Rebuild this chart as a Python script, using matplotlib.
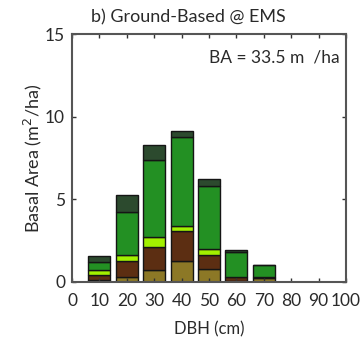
import numpy as np
import matplotlib.pyplot as plt

# Chart data (basal area per DBH class, stacked by group)
dbh = [10, 20, 30, 40, 50, 60, 70, 80, 90, 100]
olive = [0.10, 0.30, 0.70, 1.30, 0.80, 0.05, 0.25, 0, 0, 0]
brown = [0.30, 0.95, 1.40, 1.80, 0.85, 0.25, 0.05, 0, 0, 0]
lime = [0.35, 0.38, 0.65, 0.30, 0.35, 0.00, 0.00, 0, 0, 0]
green = [0.45, 2.62, 4.65, 5.35, 3.80, 1.50, 0.70, 0, 0, 0]
dark_green = [0.37, 1.00, 0.90, 0.40, 0.40, 0.15, 0.05, 0, 0, 0]
xticks = [0, 10, 20, 30, 40, 50, 60, 70, 80, 90, 100]
yticks = [0, 5, 10, 15]

plt.rcParams['font.family'] = ['Lato', 'DejaVu Sans']

fig = plt.figure(figsize=(3.62, 3.38), dpi=100)
ax = fig.add_axes([72/362, 1 - 282/338, 274/362, 248/338])

layers = [(olive, '#8c7826'), (brown, '#5c2e12'), (lime, '#a2f000'),
          (green, '#239023'), (dark_green, '#2c4a2e')]
bottom = np.zeros(len(dbh))
for vals, col in layers:
    vals = np.array(vals)
    mask = vals > 0
    ax.bar(np.array(dbh)[mask], vals[mask], width=8, bottom=bottom[mask],
           color=col, edgecolor='#151515', linewidth=1.0)
    bottom += vals

ax.set_xlim(0, 100)
ax.set_ylim(0, 15)
ax.set_xticks(xticks)
ax.set_yticks(yticks)
ax.tick_params(direction='in', top=True, right=True, length=3, width=1,
               colors='#333333', labelsize=12.5, labelcolor='#2a2a2a')
ax.tick_params(axis='x', pad=8)
ax.tick_params(axis='y', pad=5)
for s in ax.spines.values():
    s.set_color('#555555')
    s.set_linewidth(1.5)

ax.set_xlabel('DBH (cm)', fontsize=12, color='#2a2a2a', labelpad=9)
ax.set_ylabel('Basal Area (m$^2$/ha)', fontsize=13, color='#2a2a2a', labelpad=1)
ax.text(0.975, 0.905, 'BA = 33.5 m  /ha', transform=ax.transAxes, ha='right',
        va='center', fontsize=12.5, color='#2a2a2a')
fig.text(188/362, 1 - 17/338, 'b) Ground-Based @ EMS', ha='center', va='center',
         fontsize=13, color='#2a2a2a')

fig.savefig('out.png', dpi=100)
